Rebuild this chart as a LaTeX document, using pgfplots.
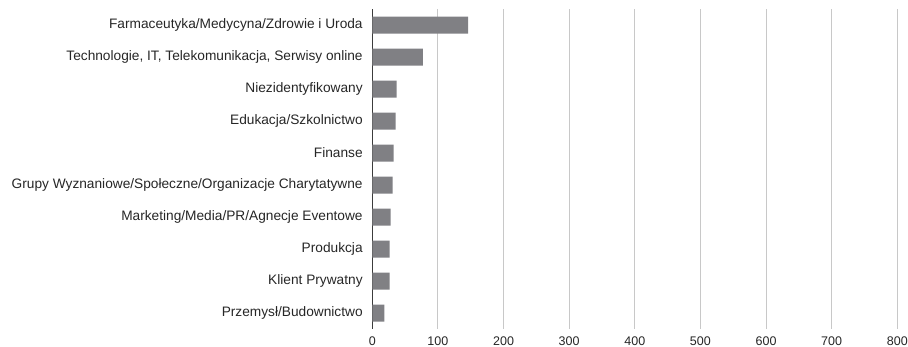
\documentclass[border=0pt]{standalone}
\usepackage{pgfplots}
\pgfplotsset{compat=1.18}
\usepackage{fontspec}
\setmainfont{Liberation Sans}
\definecolor{barc}{RGB}{128,128,132}
\definecolor{gridc}{RGB}{200,200,200}
\definecolor{axc}{RGB}{60,60,60}
\definecolor{txt}{RGB}{38,38,38}
\begin{document}
\begin{tikzpicture}
\path[use as bounding box] (0,0) rectangle (908bp,347bp);
\begin{axis}[
  at={(372.3bp,18bp)}, anchor=south west,
  scale only axis, width=525bp, height=320bp,
  xmin=0, xmax=800, xtick={0,100,...,800},
  ymin=-0.5, ymax=9.5, y dir=reverse,
  ytick={0,...,9},
  yticklabels={Farmaceutyka/Medycyna/Zdrowie i Uroda,
    {Technologie, IT, Telekomunikacja, Serwisy online},
    Niezidentyfikowany, Edukacja/Szkolnictwo, Finanse,
    Grupy Wyznaniowe/Społeczne/Organizacje Charytatywne,
    Marketing/Media/PR/Agnecje Eventowe, Produkcja,
    Klient Prywatny, Przemysł/Budownictwo},
  xbar, bar width=17bp, bar shift=0pt,
  axis x line=bottom, axis y line=left,
  x axis line style={draw=none},
  y axis line style={-, draw=axc, line width=1pt},
  xmajorgrids, major grid style={gridc, line width=0.9pt},
  tick style={draw=none},
  ticklabel style={font=\fontsize{13.7bp}{15bp}\selectfont, text=txt},
  xticklabel style={font=\fontsize{12.5bp}{14bp}\selectfont},
  /pgf/number format/assume math mode=true,
  yticklabel style={xshift=-4bp},
  xticklabel style={yshift=-2bp},
]
\addplot[fill=barc, draw=none] coordinates {
  (146,0) (77,1) (37,2) (35.5,3) (32.5,4) (31,5) (28,6) (26.5,7) (26.5,8) (18.5,9)
};
\end{axis}
\end{tikzpicture}
\end{document}
